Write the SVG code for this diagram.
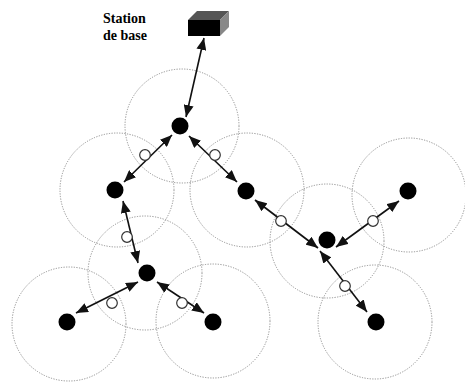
<svg xmlns="http://www.w3.org/2000/svg" width="465" height="382" viewBox="0 0 465 382">
<style>
.zone{fill:none;stroke:#8f8f8f;stroke-width:1;stroke-dasharray:1.2 1.4}
.node{fill:#000}
.link{stroke:#111;stroke-width:1.6;fill:none;marker-start:url(#ah);marker-end:url(#ah)}
.relay{fill:#fff;stroke:#333;stroke-width:1.2}
.lbl{font-family:"Liberation Serif",serif;font-weight:bold;font-size:14px;fill:#000}
</style>
<defs>
<marker id="ah" viewBox="0 0 12 10" refX="12" refY="5" markerWidth="12" markerHeight="10" markerUnits="userSpaceOnUse" orient="auto-start-reverse">
<path d="M0,0 L12,5 L0,10 z" fill="#111"/>
</marker>
</defs>
<rect width="465" height="382" fill="#fff"/>
<g id="zones">
<circle class="zone" cx="182" cy="126" r="57"/>
<circle class="zone" cx="117" cy="190" r="57"/>
<circle class="zone" cx="247" cy="190" r="57"/>
<circle class="zone" cx="145" cy="273" r="57"/>
<circle class="zone" cx="69" cy="324" r="57"/>
<circle class="zone" cx="213" cy="321" r="57"/>
<circle class="zone" cx="327" cy="241" r="57"/>
<circle class="zone" cx="409" cy="195" r="57"/>
<circle class="zone" cx="375" cy="322" r="57"/>
</g>
<g id="base-station">
<polygon points="188,20 197,11 229,11 220,20" fill="#555"/>
<polygon points="220,20 229,11 229,27 220,36" fill="#888"/>
<rect x="188" y="20" width="32" height="16" fill="#000"/>
<text class="lbl" x="103" y="23">Station</text>
<text class="lbl" x="103" y="40">de base</text>
</g>
<g id="connectors">
<line class="link" x1="204" y1="38" x2="186" y2="117"/>
<line class="link" x1="172" y1="135" x2="124" y2="182"/>
<line class="link" x1="189" y1="136" x2="237" y2="182"/>
<line class="link" x1="123" y1="201" x2="138" y2="263"/>
<line class="link" x1="255" y1="200" x2="318" y2="248"/>
<line class="link" x1="399" y1="201" x2="336" y2="247"/>
<line class="link" x1="320" y1="251" x2="367" y2="312"/>
<line class="link" x1="138" y1="282" x2="76" y2="313"/>
<line class="link" x1="157" y1="282" x2="204" y2="313"/>
</g>
<g id="relays">
<circle class="relay" cx="145" cy="155" r="5.3"/>
<circle class="relay" cx="215" cy="155" r="5.3"/>
<circle class="relay" cx="127" cy="237" r="5.3"/>
<circle class="relay" cx="281" cy="221" r="5.3"/>
<circle class="relay" cx="373" cy="221" r="5.3"/>
<circle class="relay" cx="345" cy="286" r="5.3"/>
<circle class="relay" cx="112" cy="303" r="5.3"/>
<circle class="relay" cx="182" cy="303" r="5.3"/>
</g>
<g id="node-a"><circle class="node" cx="180" cy="126" r="8.5"/></g>
<g id="node-b"><circle class="node" cx="115" cy="190" r="8.5"/></g>
<g id="node-c"><circle class="node" cx="246" cy="191" r="8.5"/></g>
<g id="node-d"><circle class="node" cx="147" cy="273" r="8.5"/></g>
<g id="node-e"><circle class="node" cx="67" cy="322" r="8.5"/></g>
<g id="node-f"><circle class="node" cx="213" cy="322" r="8.5"/></g>
<g id="node-g"><circle class="node" cx="327" cy="240" r="8.5"/></g>
<g id="node-h"><circle class="node" cx="408" cy="191" r="8.5"/></g>
<g id="node-i"><circle class="node" cx="376" cy="322" r="8.5"/></g>
</svg>
